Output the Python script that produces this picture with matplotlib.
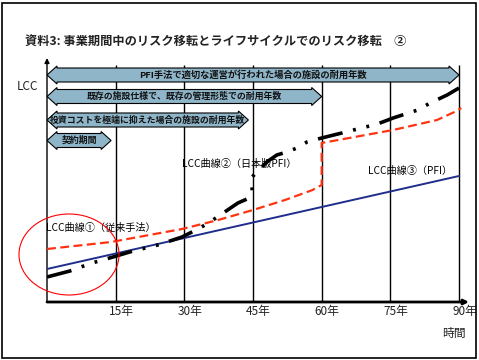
import matplotlib
matplotlib.use("Agg")
import matplotlib.pyplot as plt
from matplotlib.patches import Polygon, Ellipse, Rectangle

plt.rcParams['font.family'] = ['Noto Sans CJK JP', 'DejaVu Sans']

# ---- data ----
tick_years = [15, 30, 45, 60, 75, 90]
tick_labels = ['15年', '30年', '45年', '60年', '75年', '90年']

blue_x = [0, 90]
blue_y = [33, 126]

red_x = [0, 14, 29.5, 37.4, 45, 52, 58, 60, 60, 75.6, 85.2, 89, 90.5]
red_y = [53, 60, 73, 82, 92, 102, 112, 117, 159, 172, 182, 190, 194]

black_x = [0, 5, 9.8, 12.2, 18.8, 24.2, 29.5, 33.4, 35.6, 41.7, 43.7, 44.8, 44.8,
           48, 50.2, 52.4, 54.6, 56.8, 60, 64.4, 69.5, 71.6, 75.6, 81, 83.7, 87.4, 90]
black_y = [25, 31, 39, 42, 51, 57, 65, 74, 80, 99, 103, 110, 125,
           140, 147, 150, 154, 160, 164, 169, 175, 177, 184, 192, 199, 207, 214]

band_labels = ['PFI手法で適切な運営が行われた場合の施設の耐用年数',
               '既存の施設仕様で、既存の管理形態での耐用年数',
               '投資コストを極端に抑えた場合の施設の耐用年数',
               '契約期間']
band_end_years = [90, 60, 44, 14]

curve_labels = ['LCC曲線①（従来手法）', 'LCC曲線②（日本版PFI）', 'LCC曲線③（PFI）']

# ---- figure ----
W, H = 479, 360
fig = plt.figure(figsize=(W / 100, H / 100), dpi=100)
fig.patch.set_facecolor('white')
fig.patches.append(Rectangle((2 / W, 2 / H), 474 / W, 355 / H, transform=fig.transFigure,
                             fill=False, edgecolor='black', linewidth=1.2))

ax_l, ax_r, ax_b, ax_t = 47, 469, 302, 58
ax = fig.add_axes([ax_l / W, (H - ax_b) / H, (ax_r - ax_l) / W, (ax_b - ax_t) / H])
px_per_year = (459 - 47) / 90
ax.set_xlim(0, (ax_r - ax_l) / px_per_year)
ax.set_ylim(0, ax_b - ax_t)
ax.axis('off')

# gridlines
ax.vlines(tick_years, 0, 237, color='black', linewidth=1.0, zorder=1)

# axes with arrows
ax.annotate('', xy=(0, 244), xytext=(0, 0),
            arrowprops=dict(arrowstyle='-|>', color='black', lw=1.0,
                            mutation_scale=7, shrinkA=0, shrinkB=0),
            annotation_clip=False, zorder=5)
ax.annotate('', xy=((ax_r - ax_l) / px_per_year, 0), xytext=(0, 0),
            arrowprops=dict(arrowstyle='-|>', color='black', lw=2.0,
                            mutation_scale=7, shrinkA=0, shrinkB=0),
            annotation_clip=False, zorder=5)

# tick labels
for yr, lab in zip(tick_years, tick_labels):
    ax.text(yr + 1.2, -10, lab, ha='center', va='center', fontsize=8.5, color='#222222')
ax.text((454 - 47) / px_per_year, -31, '時間', ha='center', va='center',
        fontsize=8.5, color='#222222')

# band arrows
band_centers = [227, 205.5, 182, 161.5]
hh, hb = 9.0, 7.0
L = 10 / px_per_year
for i, (lab, x1, yc) in enumerate(zip(band_labels, band_end_years, band_centers)):
    x0 = 0
    pts = [(x0, yc), (x0 + L, yc + hh), (x0 + L, yc + hb), (x1 - L, yc + hb),
           (x1 - L, yc + hh), (x1, yc), (x1 - L, yc - hh), (x1 - L, yc - hb),
           (x0 + L, yc - hb), (x0 + L, yc - hh)]
    ax.add_patch(Polygon(pts, closed=True, facecolor='#8FB5C9', edgecolor='black',
                         linewidth=0.8, zorder=3))
    ax.text((x0 + x1) / 2, yc, lab, ha='center', va='center',
            fontsize=6.7 if i == 0 else 6.4,
            fontweight='bold', color='#111111', zorder=4)

# curves
ax.plot(blue_x, blue_y, color='#1F2E8C', linewidth=1.4, zorder=6)
ax.plot(red_x, red_y, color='#FF3311', linewidth=1.6, linestyle=(0, (4, 2)), zorder=6)
ax.plot(black_x, black_y, color='black', linewidth=2.6,
        linestyle=(0, (7, 3, 0.8, 3, 0.8, 3)), zorder=7)

# curve labels
ax.text(-0.2, 74, curve_labels[0], ha='left', va='center', fontsize=7.3, zorder=6)
ax.text(29.5, 138, curve_labels[1], ha='left', va='center', fontsize=7.3, zorder=6)
ax.text(70.2, 131, curve_labels[2], ha='left', va='center', fontsize=7.3, zorder=6)

# red ellipse
ax.add_patch(Ellipse(((69 - 47) / px_per_year, 302 - 254.5), 100 / px_per_year, 81,
                     fill=False, edgecolor='red', linewidth=0.8, clip_on=False, zorder=8))

# LCC label and title
fig.text(28 / W, 1 - 86 / H, 'LCC', ha='center', va='center', fontsize=8.5, color='#222222')
fig.text(25 / W, 1 - 41 / H,
         '資料3: 事業期間中のリスク移転とライフサイクルでのリスク移転　②',
         ha='left', va='center', fontsize=8.8, fontweight='bold', color='#222222')

fig.savefig('out.png', dpi=100, facecolor='white')
